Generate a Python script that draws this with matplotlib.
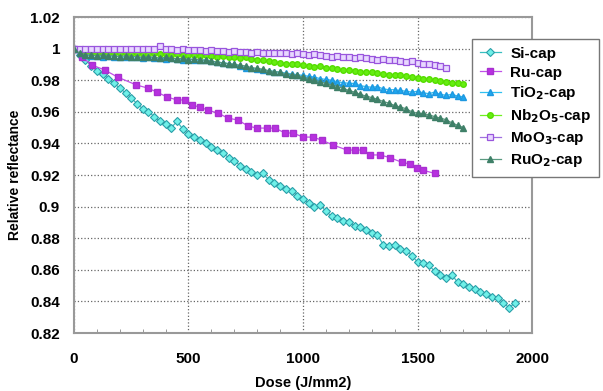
import matplotlib
matplotlib.use("Agg")
import matplotlib.pyplot as plt
import matplotlib.ticker as ticker

plt.rcParams["font.family"] = ["Liberation Sans", "DejaVu Sans"]
plt.rcParams["font.weight"] = "bold"
plt.rcParams["mathtext.default"] = "bf"

# Si-cap (dose step 25)
si_dose = [0, 25, 50, 75, 100, 125, 150, 175, 200, 225, 250, 275, 300, 325, 350, 375,
           400, 425, 450, 475, 500, 525, 550, 575, 600, 625, 650, 675, 700, 725, 750, 775,
           800, 825, 850, 875, 900, 925, 950, 975, 1000, 1025, 1050, 1075, 1100, 1125, 1150,
           1175, 1200, 1225, 1250, 1275, 1300, 1325, 1350, 1375, 1400, 1425, 1450, 1475,
           1500, 1525, 1550, 1575, 1600, 1625, 1650, 1675, 1700, 1725, 1750, 1775, 1800,
           1825, 1850, 1875, 1900, 1925]
si_refl = [1.000, 0.996, 0.993, 0.989, 0.986, 0.984, 0.981, 0.978, 0.975, 0.972, 0.969,
           0.965, 0.962, 0.960, 0.957, 0.954, 0.952, 0.950, 0.954, 0.949, 0.946, 0.944,
           0.942, 0.940, 0.938, 0.936, 0.934, 0.931, 0.929, 0.926, 0.924, 0.922, 0.920,
           0.921, 0.917, 0.915, 0.913, 0.911, 0.910, 0.907, 0.905, 0.902, 0.900, 0.901,
           0.897, 0.894, 0.893, 0.891, 0.890, 0.888, 0.887, 0.885, 0.883, 0.882, 0.876,
           0.875, 0.876, 0.873, 0.872, 0.869, 0.865, 0.864, 0.863, 0.859, 0.857, 0.855,
           0.857, 0.852, 0.851, 0.849, 0.848, 0.846, 0.845, 0.843, 0.842, 0.839, 0.836,
           0.839]

# Ru-cap (irregular doses)
ru_dose = [0, 35, 78, 134, 190, 272, 323, 362, 406, 450, 485, 515, 550, 585, 629, 672,
           716, 760, 799, 843, 878, 921, 956, 1000, 1044, 1083, 1131, 1192, 1227, 1262,
           1293, 1336, 1380, 1432, 1467, 1498, 1524, 1576]
ru_refl = [1.000, 0.9947, 0.9896, 0.9865, 0.982, 0.977, 0.975, 0.9725, 0.9694, 0.9675,
           0.9675, 0.9643, 0.963, 0.961, 0.9592, 0.956, 0.9548, 0.951, 0.9497, 0.9497,
           0.9497, 0.9466, 0.9466, 0.944, 0.944, 0.942, 0.939, 0.9358, 0.9358, 0.9358,
           0.9327, 0.9327, 0.931, 0.928, 0.927, 0.9244, 0.923, 0.921]

# doses shared by TiO2, Nb2O5, RuO2 (0..1700, step 25)
cap_dose = [0, 25, 50, 75, 100, 125, 150, 175, 200, 225, 250, 275, 300, 325, 350, 375,
            400, 425, 450, 475, 500, 525, 550, 575, 600, 625, 650, 675, 700, 725, 750, 775,
            800, 825, 850, 875, 900, 925, 950, 975, 1000, 1025, 1050, 1075, 1100, 1125,
            1150, 1175, 1200, 1225, 1250, 1275, 1300, 1325, 1350, 1375, 1400, 1425, 1450,
            1475, 1500, 1525, 1550, 1575, 1600, 1625, 1650, 1675, 1700]

tio2_refl = [1.000, 0.997, 0.996, 0.9955, 0.9955, 0.995, 0.9955, 0.995, 0.995, 0.9945,
             0.995, 0.9945, 0.994, 0.9945, 0.994, 0.994, 0.9935, 0.994, 0.9935, 0.993,
             0.9935, 0.993, 0.9925, 0.993, 0.992, 0.9915, 0.991, 0.9905, 0.990, 0.989,
             0.988, 0.9875, 0.987, 0.9865, 0.986, 0.9855, 0.985, 0.9845, 0.984, 0.9835,
             0.983, 0.9825, 0.982, 0.981, 0.9805, 0.980, 0.979, 0.9785, 0.978, 0.978,
             0.9765, 0.976, 0.9755, 0.976, 0.9745, 0.974, 0.974, 0.9735, 0.973, 0.9725,
             0.973, 0.972, 0.9715, 0.9725, 0.971, 0.9705, 0.971, 0.970, 0.9695]

nb2o5_refl = [1.000, 0.999, 0.998, 0.998, 0.9975, 0.9975, 0.997, 0.9975, 0.997, 0.997,
              0.9965, 0.997, 0.9965, 0.9965, 0.997, 0.9965, 0.9965, 0.996, 0.9965, 0.996,
              0.996, 0.996, 0.9955, 0.996, 0.9955, 0.995, 0.9955, 0.995, 0.9945, 0.994,
              0.9945, 0.9935, 0.993, 0.9925, 0.992, 0.9915, 0.991, 0.9905, 0.9905, 0.990,
              0.9895, 0.989, 0.9885, 0.989, 0.988, 0.9875, 0.987, 0.9865, 0.9865, 0.986,
              0.9855, 0.9855, 0.985, 0.9845, 0.984, 0.9835, 0.9835, 0.983, 0.9825, 0.982,
              0.9815, 0.981, 0.9805, 0.980, 0.9795, 0.979, 0.9785, 0.978, 0.9775]

ruo2_refl = [1.000, 0.997, 0.996, 0.996, 0.9955, 0.996, 0.9955, 0.9955, 0.995, 0.9955,
             0.995, 0.995, 0.9945, 0.995, 0.9945, 0.994, 0.9945, 0.994, 0.9935, 0.994,
             0.993, 0.9935, 0.993, 0.9925, 0.992, 0.9915, 0.991, 0.9905, 0.990, 0.9895,
             0.989, 0.988, 0.9875, 0.987, 0.986, 0.9855, 0.985, 0.984, 0.9835, 0.983,
             0.982, 0.981, 0.980, 0.979, 0.978, 0.977, 0.976, 0.975, 0.9735, 0.9725,
             0.971, 0.970, 0.969, 0.968, 0.9665, 0.9655, 0.964, 0.963, 0.962, 0.960,
             0.959, 0.959, 0.958, 0.957, 0.956, 0.955, 0.953, 0.9515, 0.950]

# MoO3-cap (0..1625, step 25)
moo3_dose = cap_dose[:66]
moo3_refl = [1.000, 1.000, 0.9995, 1.000, 0.9995, 1.000, 0.9995, 0.9995, 1.000, 0.9995,
             0.9995, 1.000, 0.9995, 0.9995, 0.9995, 1.0015, 0.9995, 0.9995, 0.999, 0.9995,
             0.999, 0.999, 0.999, 0.9985, 0.999, 0.9985, 0.9985, 0.998, 0.9985, 0.998,
             0.998, 0.9975, 0.998, 0.9975, 0.997, 0.9975, 0.997, 0.997, 0.9965, 0.997,
             0.9965, 0.996, 0.9965, 0.996, 0.9955, 0.995, 0.9955, 0.995, 0.9945, 0.994,
             0.9945, 0.994, 0.9935, 0.993, 0.9935, 0.993, 0.9925, 0.992, 0.9915, 0.992,
             0.991, 0.9905, 0.990, 0.9895, 0.989, 0.9875]

fig = plt.figure(figsize=(6.03, 3.91), dpi=100)
ax = fig.add_axes([0.1227, 0.1483, 0.7596, 0.8082])

ax.plot(si_dose, si_refl, "-D", color="#38BFC0", lw=0.9, ms=4,
        mfc="#6FF0E8", mec="#2A9FA8", mew=0.8, label="Si-cap")
ax.plot(ru_dose, ru_refl, "-s", color="#C050E8", lw=0.9, ms=4.5,
        mfc="#B830E0", mec="#A830D0", label="Ru-cap")
ax.plot(cap_dose, tio2_refl, "-^", color="#30C0F0", lw=0.9, ms=4,
        mfc="#1EA8F0", mec="#1E98E0", label="TiO$_2$-cap")
ax.plot(cap_dose, nb2o5_refl, "-o", color="#70F020", lw=0.9, ms=4,
        mfc="#66EE11", mec="#55DD00", label="Nb$_2$O$_5$-cap")
ax.plot(moo3_dose, moo3_refl, "-s", color="#A070E0", lw=0.9, ms=4.5,
        mfc="#E8D8FF", mec="#9955DD", mew=0.9, label="MoO$_3$-cap")
ax.plot(cap_dose, ruo2_refl, "-^", color="#5A9A80", lw=0.9, ms=4,
        mfc="#3F8068", mec="#3F8068", label="RuO$_2$-cap")

ax.set_xlim(0, 2000)
ax.set_ylim(0.82, 1.02)
ax.xaxis.set_major_locator(ticker.MultipleLocator(500))
ax.xaxis.set_minor_locator(ticker.MultipleLocator(100))
ax.yaxis.set_major_locator(ticker.MultipleLocator(0.02))
ax.yaxis.set_major_formatter(ticker.FuncFormatter(lambda v, _: f"{v:.2f}".rstrip("0").rstrip(".")))
ax.tick_params(axis="both", which="both", direction="in", colors="#888888",
               labelcolor="black", labelsize=11)
ax.tick_params(axis="x", which="major", length=0, pad=14)
ax.tick_params(axis="x", which="minor", length=3)
ax.tick_params(axis="y", which="major", length=0, pad=10)
ax.grid(True, which="major", color="#666666", linestyle=":", linewidth=0.9)
for sp in ax.spines.values():
    sp.set_color("#999999")
    sp.set_linewidth(1.5)

ax.set_xlabel("Dose (J/mm2)", fontsize=10.5, fontweight="bold", labelpad=7)
ax.set_ylabel("Relative reflectance", fontsize=10, fontweight="bold", labelpad=6)

leg = ax.legend(loc="upper left", bbox_to_anchor=(0.7828, 0.9003),
                bbox_transform=fig.transFigure, borderaxespad=0,
                fontsize=11, frameon=True, fancybox=False, framealpha=1,
                handlelength=1.4, handletextpad=0.6, labelspacing=0.32,
                borderpad=0.5)
leg.get_frame().set_edgecolor("#777777")
leg.get_frame().set_linewidth(1.0)
for t in leg.get_texts():
    t.set_fontweight("bold")

fig.savefig("out.png", dpi=100)
